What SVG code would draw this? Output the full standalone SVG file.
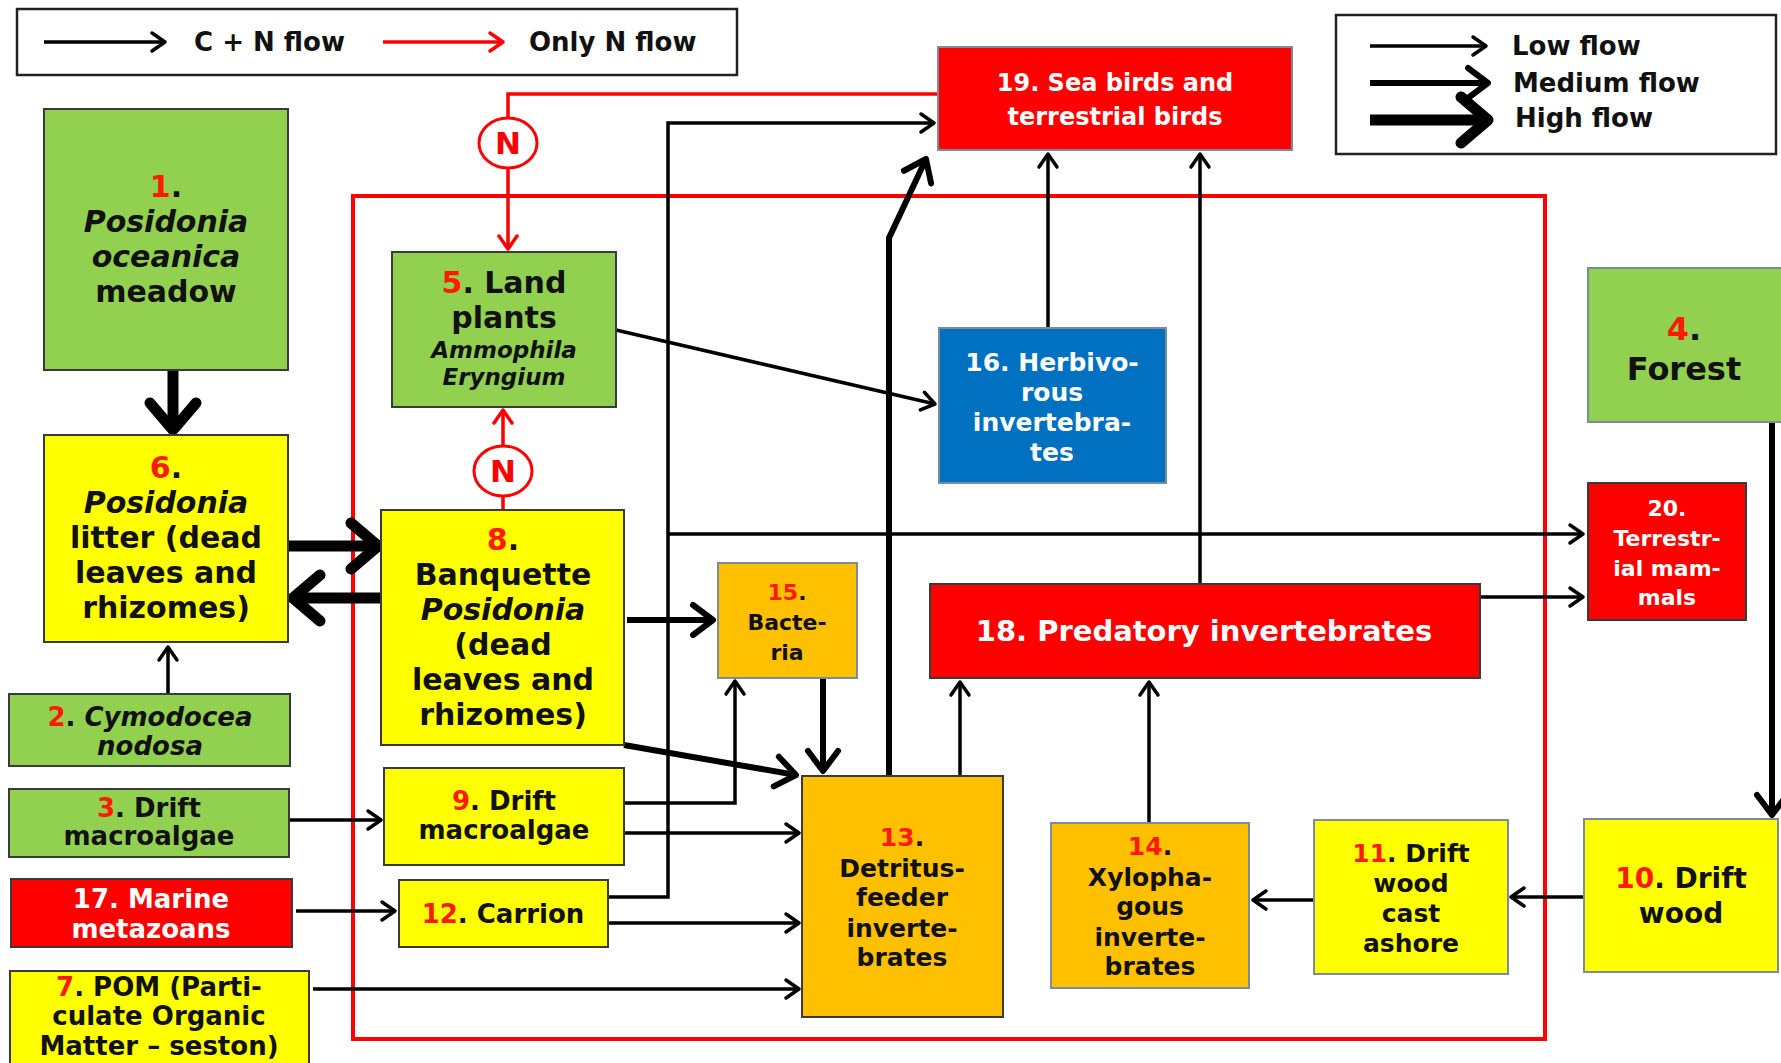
<svg xmlns="http://www.w3.org/2000/svg" width="1781" height="1063" viewBox="0 0 1781 1063">
<style>
text{font-family:"DejaVu Sans","Verdana",sans-serif;font-weight:bold;text-anchor:middle;fill:#111}
.w{fill:#fff}
.it{font-style:italic}
.n{fill:#ff1a00}
.box{stroke:#3a3a3a;stroke-width:2}
.soft{stroke:#7d8c9c;stroke-width:2}
.g{fill:#92d050}.y{fill:#ffff00}.o{fill:#ffc000}.r{fill:#ff0000}.b{fill:#0070c0}
.lo{fill:none;stroke:#000;stroke-width:3.5;marker-end:url(#aL)}
.me{fill:none;stroke:#000;stroke-width:6;marker-end:url(#aM)}
.hi{fill:none;stroke:#000;stroke-width:11;marker-end:url(#aH)}
.rl{fill:none;stroke:#ff0000;stroke-width:3.5;marker-end:url(#aR)}
.leg{text-anchor:start;font-size:26px}
</style>
<defs>
<marker id="aL" viewBox="-18 -12 22 24" markerWidth="22" markerHeight="24" refX="0" refY="0" orient="auto" markerUnits="userSpaceOnUse"><path d="M-13,-9 L0,0 L-13,9" fill="none" stroke="#000" stroke-width="3.5" stroke-linecap="round" stroke-linejoin="round"/></marker>
<marker id="aR" viewBox="-18 -12 22 24" markerWidth="22" markerHeight="24" refX="0" refY="0" orient="auto" markerUnits="userSpaceOnUse"><path d="M-13,-9 L0,0 L-13,9" fill="none" stroke="#ff0000" stroke-width="3.5" stroke-linecap="round" stroke-linejoin="round"/></marker>
<marker id="aM" viewBox="-28 -22 34 44" markerWidth="34" markerHeight="44" refX="0" refY="0" orient="auto" markerUnits="userSpaceOnUse"><path d="M-20,-15 L0,0 L-20,15" fill="none" stroke="#000" stroke-width="6" stroke-linecap="round" stroke-linejoin="round"/></marker>
<marker id="aH" viewBox="-36 -30 44 60" markerWidth="44" markerHeight="60" refX="0" refY="0" orient="auto" markerUnits="userSpaceOnUse"><path d="M-27,-23 L0,0 L-27,23" fill="none" stroke="#000" stroke-width="11" stroke-linecap="round" stroke-linejoin="round"/></marker>
</defs>
<rect width="1781" height="1063" fill="#fff"/>

<g id="legend-type">
<rect x="17" y="9" width="720" height="66" fill="#fff" stroke="#222" stroke-width="2.5"/>
<path class="lo" d="M44,42 L165,42"/>
<text class="leg" x="194" y="51">C + N flow</text>
<path class="rl" d="M383,42 L503,42"/>
<text class="leg" x="529" y="51">Only N flow</text>
</g>
<g id="legend-size">
<rect x="1336" y="15" width="440" height="139" fill="#fff" stroke="#222" stroke-width="2.5"/>
<path class="lo" d="M1370,46 L1486,46"/>
<text class="leg" x="1512" y="55">Low flow</text>
<path class="me" d="M1370,83 L1488,83"/>
<text class="leg" x="1513" y="92">Medium flow</text>
<path class="hi" d="M1370,120 L1488,120"/>
<text class="leg" x="1515" y="127">High flow</text>
</g>

<rect id="zone" x="353" y="196" width="1192" height="843" fill="none" stroke="#ff0000" stroke-width="4"/>

<g id="connectors">
<path class="hi" d="M173,370 L173,430"/>
<path class="hi" d="M288,546 L378,546"/>
<path class="hi" d="M382,598 L293,598"/>
<path class="lo" d="M168,700 L168,647"/>
<path class="lo" d="M288,820 L381,820"/>
<path class="lo" d="M296,911 L395,911"/>
<path class="lo" d="M313,989 L799,989"/>
<path class="lo" d="M608,923 L799,923"/>
<path class="lo" d="M624,833 L799,833"/>
<path class="lo" d="M624,803 L735,803 L735,681"/>
<path class="lo" d="M608,897 L668,897 L668,123 L934,123"/>
<path class="lo" d="M668,534 L1583,534"/>
<path class="me" d="M627,620 L713,620"/>
<path class="me" d="M624,745 L796,775"/>
<path class="me" d="M823,678 L823,771"/>
<path class="me" d="M889,776 L889,238 L926,159"/>
<path class="lo" d="M960,776 L960,682"/>
<path class="lo" d="M1149,823 L1149,682"/>
<path class="lo" d="M1048,328 L1048,154"/>
<path class="lo" d="M1200,584 L1200,154"/>
<path class="lo" d="M616,330 L935,404"/>
<path class="lo" d="M1480,597 L1583,597"/>
<path class="me" d="M1772,422 L1772,815"/>
<path class="lo" d="M1584,897 L1511,897"/>
<path class="lo" d="M1314,900 L1253,900"/>
<path class="rl" d="M938,94 L508,94 L508,249"/>
<path class="rl" d="M503,510 L503,410"/>
<g id="n-marker-1"><ellipse cx="508" cy="143" rx="29" ry="25" fill="#fff" stroke="#ff0000" stroke-width="3"/><text x="508" y="154" style="font-size:31px;fill:#ff0000">N</text></g>
<g id="n-marker-2"><ellipse cx="503" cy="471" rx="29" ry="25" fill="#fff" stroke="#ff0000" stroke-width="3"/><text x="503" y="482" style="font-size:31px;fill:#ff0000">N</text></g>
</g>

<g id="node1"><rect class="g box" x="44" y="109" width="244" height="261"/>
<text style="font-size:30px" x="166"><tspan x="166" y="197"><tspan class="n">1</tspan>.</tspan><tspan class="it" x="166" y="232">Posidonia</tspan><tspan class="it" x="166" y="267">oceanica</tspan><tspan x="166" y="302">meadow</tspan></text></g>

<g id="node6"><rect class="y box" x="44" y="435" width="244" height="207"/>
<text style="font-size:30px" x="166"><tspan x="166" y="478"><tspan class="n">6</tspan>.</tspan><tspan class="it" x="166" y="513">Posidonia</tspan><tspan x="166" y="548">litter (dead</tspan><tspan x="166" y="583">leaves and</tspan><tspan x="166" y="618">rhizomes)</tspan></text></g>

<g id="node2"><rect class="g box" x="9" y="694" width="281" height="72"/>
<text style="font-size:26px" x="150"><tspan x="150" y="726"><tspan class="n">2</tspan>. <tspan class="it">Cymodocea</tspan></tspan><tspan class="it" x="150" y="755">nodosa</tspan></text></g>

<g id="node3"><rect class="g box" x="9" y="789" width="280" height="68"/>
<text style="font-size:26px" x="149"><tspan x="149" y="817"><tspan class="n">3</tspan>. Drift</tspan><tspan x="149" y="845">macroalgae</tspan></text></g>

<g id="node17"><rect class="r box" x="11" y="879" width="281" height="68"/>
<text class="w" style="font-size:26px" x="151"><tspan x="151" y="908">17. Marine</tspan><tspan x="151" y="938">metazoans</tspan></text></g>

<g id="node7"><rect class="y box" x="10" y="971" width="299" height="100"/>
<text style="font-size:26px" x="159"><tspan x="159" y="996"><tspan class="n">7</tspan>. POM (Parti-</tspan><tspan x="159" y="1025">culate Organic</tspan><tspan x="159" y="1055">Matter – seston)</tspan></text></g>

<g id="node5"><rect class="g box" x="392" y="252" width="224" height="155"/>
<text style="font-size:30px" x="504"><tspan x="504" y="293"><tspan class="n">5</tspan>. Land</tspan><tspan x="504" y="328">plants</tspan></text>
<text class="it" style="font-size:23px" x="504"><tspan x="504" y="358">Ammophila</tspan><tspan x="504" y="385">Eryngium</tspan></text></g>

<g id="node8"><rect class="y box" x="381" y="510" width="243" height="235"/>
<text style="font-size:30px" x="503"><tspan x="503" y="550"><tspan class="n">8</tspan>.</tspan><tspan x="503" y="585">Banquette</tspan><tspan class="it" x="503" y="620">Posidonia</tspan><tspan x="503" y="655">(dead</tspan><tspan x="503" y="690">leaves and</tspan><tspan x="503" y="725">rhizomes)</tspan></text></g>

<g id="node9"><rect class="y box" x="384" y="768" width="240" height="97"/>
<text style="font-size:26px" x="504"><tspan x="504" y="810"><tspan class="n">9</tspan>. Drift</tspan><tspan x="504" y="839">macroalgae</tspan></text></g>

<g id="node12"><rect class="y box" x="399" y="880" width="209" height="67"/>
<text style="font-size:26px" x="503" y="923"><tspan class="n">12</tspan>. Carrion</text></g>

<g id="node15"><rect class="o soft" x="718" y="563" width="139" height="115"/>
<text style="font-size:22px" x="787"><tspan x="787" y="600"><tspan class="n">15</tspan>.</tspan><tspan x="787" y="630">Bacte-</tspan><tspan x="787" y="660">ria</tspan></text></g>

<g id="node13"><rect class="o box" x="802" y="776" width="201" height="241"/>
<text style="font-size:25px" x="902"><tspan x="902" y="846"><tspan class="n">13</tspan>.</tspan><tspan x="902" y="877">Detritus-</tspan><tspan x="902" y="906">feeder</tspan><tspan x="902" y="937">inverte-</tspan><tspan x="902" y="966">brates</tspan></text></g>

<g id="node14"><rect class="o soft" x="1051" y="823" width="198" height="165"/>
<text style="font-size:25px" x="1150"><tspan x="1150" y="855"><tspan class="n">14</tspan>.</tspan><tspan x="1150" y="886">Xylopha-</tspan><tspan x="1150" y="915">gous</tspan><tspan x="1150" y="946">inverte-</tspan><tspan x="1150" y="975">brates</tspan></text></g>

<g id="node16"><rect class="b soft" x="939" y="328" width="227" height="155"/>
<text class="w" style="font-size:25px" x="1052"><tspan x="1052" y="371">16. Herbivo-</tspan><tspan x="1052" y="401">rous</tspan><tspan x="1052" y="431">invertebra-</tspan><tspan x="1052" y="461">tes</tspan></text></g>

<g id="node18"><rect class="r box" x="930" y="584" width="550" height="94"/>
<text class="w" style="font-size:29px" x="1204" y="641">18. Predatory invertebrates</text></g>

<g id="node19"><rect class="r soft" x="938" y="47" width="354" height="103"/>
<text class="w" style="font-size:24px" x="1115"><tspan x="1115" y="91">19. Sea birds and</tspan><tspan x="1115" y="125">terrestrial birds</tspan></text></g>

<g id="node20"><rect class="r box" x="1588" y="483" width="158" height="137"/>
<text class="w" style="font-size:22px" x="1667"><tspan x="1667" y="516">20.</tspan><tspan x="1667" y="546">Terrestr-</tspan><tspan x="1667" y="576">ial mam-</tspan><tspan x="1667" y="605">mals</tspan></text></g>

<g id="node4"><rect class="g soft" x="1588" y="268" width="195" height="154"/>
<text style="font-size:32px" x="1684"><tspan x="1684" y="340"><tspan class="n">4</tspan>.</tspan><tspan x="1684" y="380">Forest</tspan></text></g>

<g id="node11"><rect class="y soft" x="1314" y="820" width="194" height="154"/>
<text style="font-size:25px" x="1411"><tspan x="1411" y="862"><tspan class="n">11</tspan>. Drift</tspan><tspan x="1411" y="892">wood</tspan><tspan x="1411" y="922">cast</tspan><tspan x="1411" y="952">ashore</tspan></text></g>

<g id="node10"><rect class="y soft" x="1584" y="819" width="194" height="153"/>
<text style="font-size:28px" x="1681"><tspan x="1681" y="888"><tspan class="n">10</tspan>. Drift</tspan><tspan x="1681" y="923">wood</tspan></text></g>
</svg>
